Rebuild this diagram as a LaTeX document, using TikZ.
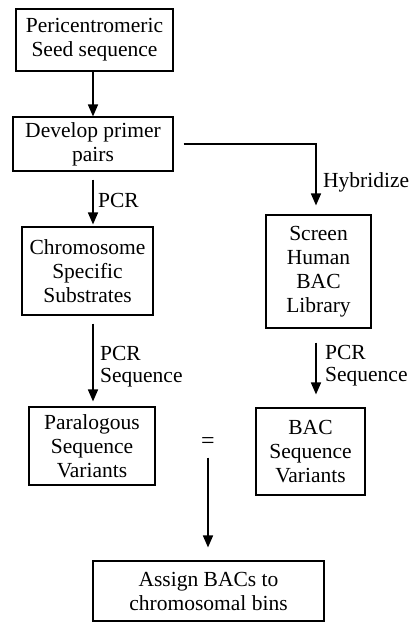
\documentclass[tikz,border=0pt]{standalone}
\usepackage{fontspec}
\setmainfont{Liberation Serif}
\usetikzlibrary{arrows.meta}
\begin{document}
\begin{tikzpicture}[x=1pt,y=-1pt,
  box/.style={draw,line width=1.1pt,align=center,inner sep=0pt,font=\fontsize{21.5}{24}\selectfont},
  lbl/.style={font=\fontsize{21.5}{24}\selectfont,inner sep=0pt,align=left},
  arr/.style={line width=1.5pt,-{Triangle[width=10pt,length=12pt]}}]
\useasboundingbox (0,0) rectangle (409,622);
\node[box,minimum width=157pt,minimum height=62pt] (seed) at (94.5,40) {Pericentromeric\\Seed sequence};
\node[box,minimum width=160pt,minimum height=54pt] (primer) at (93,144) {Develop primer\\pairs};
\node[box,minimum width=131pt,minimum height=88pt] (chrom) at (87.5,271) {Chromosome\\Specific\\Substrates};
\node[box,minimum width=126pt,minimum height=78pt] (para) at (92,446) {Paralogous\\Sequence\\Variants};
\node[box,minimum width=105pt,minimum height=113pt] (screen) at (318.5,271.5) {Screen\\Human\\BAC\\Library};
\node[box,minimum width=109pt,minimum height=87pt] (bac) at (310.5,451.5) {BAC\\Sequence\\Variants};
\node[box,minimum width=231pt,minimum height=60pt] (assign) at (208.5,591) {Assign BACs to\\chromosomal bins};
\node[lbl,font=\fontsize{24}{24}\selectfont] (eq) at (208,443) {=};
\coordinate (corner) at (316,144);
% connectors
\draw[arr] (seed.south -| 93,0) -- (primer.north -| 93,0);
\draw[arr,shorten <=10pt,shorten >=9pt] (primer.east) -- (corner) -- (corner |- screen.north);
\draw[arr,shorten <=8pt,shorten >=2pt] (primer.south -| 93,0) -- (chrom.north -| 93,0);
\draw[arr,shorten <=8pt,shorten >=5pt] (chrom.south -| 93,0) -- (para.north -| 93,0);
\draw[arr,shorten <=14pt,shorten >=13pt] (screen.south -| 316,0) -- (bac.north -| 316,0);
\draw[arr,shorten <=9pt,shorten >=13pt] (eq.south) -- (assign.north -| eq.south);
% labels
\node[lbl,anchor=west] (hyb) at (323,182) {Hybridize};
\node[lbl,anchor=west] (pcr1) at (98,200) {PCR};
\node[lbl,anchor=west] (pcr2) at (100,353) {PCR};
\node[lbl,anchor=west] (seq2) at (100,378) {Sequence};
\node[lbl,anchor=west] (pcr3) at (325,352) {PCR};
\node[lbl,anchor=west] (seq3) at (325,377) {Sequence};
\end{tikzpicture}
\end{document}
